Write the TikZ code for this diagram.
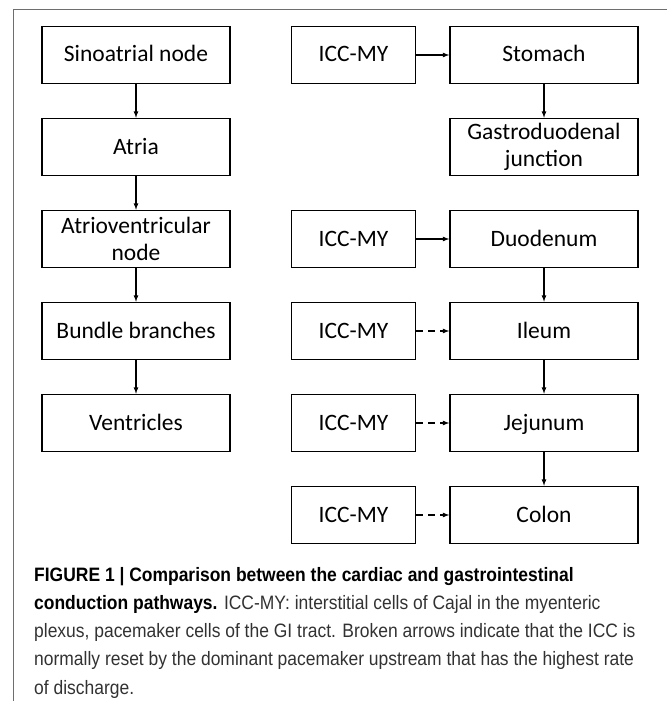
\documentclass[tikz,border=0pt]{standalone}
\usepackage{fontspec}
\setmainfont{Liberation Sans}
\newfontfamily\boxfont{Carlito}
\usetikzlibrary{positioning}
\definecolor{framegray}{RGB}{110,110,110}
\definecolor{captext}{RGB}{50,50,50}
\tikzset{
  blk/.style={draw, line width=1.5pt, minimum width=188pt, minimum height=57pt,
    inner sep=1pt, align=center, text height=17pt, text depth=3pt,
    font=\boxfont\fontsize{23.5}{27}\selectfont},
  twoline/.style={text height={}, text depth={}},
  iccbox/.style={blk, minimum width=124pt},
  link/.style={line width=1.2pt, -latex},
  weak/.style={link, dash pattern=on 7pt off 5pt}
}
\begin{document}
\begin{tikzpicture}[node distance=33.5pt]
\useasboundingbox (0,0) rectangle (667pt,-701pt);
\draw[framegray, line width=0.9pt] (13pt,-701pt) -- (13pt,-9pt) -- (667pt,-9pt); % page frame
% cardiac pathway
\node[blk] (san) at (136pt,-55pt) {Sinoatrial node};
\node[blk, below=of san] (atr) {Atria};
\node[blk, twoline, below=of atr] (avn) {Atrioventricular\\node};
\node[blk, below=of avn] (bun) {Bundle branches};
\node[blk, below=of bun] (ven) {Ventricles};
\foreach \a/\b in {san/atr, atr/avn, avn/bun, bun/ven}
\draw[link] (\a) -- (\b);
% gastrointestinal pathway
\node[blk] (sto) at (544pt,-55pt) {Stomach};
\node[blk, twoline, below=of sto] (gdj) {Gastroduodenal\\junction};
\node[blk, below=of gdj] (duo) {Duodenum};
\node[blk, below=of duo] (ile) {Ileum};
\node[blk, below=of ile] (jej) {Jejunum};
\node[blk, below=of jej] (col) {Colon};
\foreach \a/\b in {sto/gdj, duo/ile, ile/jej, jej/col}
\draw[link] (\a) -- (\b);
\foreach \n in {sto, duo, ile, jej, col} % one ICC-MY box per segment
\node[iccbox, left=33pt of \n] (icc-\n) {ICC-MY};
\foreach \n in {sto, duo} % edit here for solid arrows
\draw[link] (icc-\n) -- (\n);
\foreach \n in {ile, jej, col} % edit here for broken arrows
\draw[weak] (icc-\n) -- (\n);
% caption
\node[anchor=north west, inner sep=0pt, align=left, text=captext,
  font=\addfontfeature{FakeStretch=0.9}\fontsize{19.4}{28.2}\selectfont] (cap) at (34pt,-567pt)
{\textcolor{black}{\textbf{FIGURE 1 | Comparison between the cardiac and gastrointestinal}}\\
\textcolor{black}{\textbf{conduction pathways.}} ICC-MY: interstitial cells of Cajal in the myenteric\\
plexus, pacemaker cells of the GI tract. Broken arrows indicate that the ICC is\\
normally reset by the dominant pacemaker upstream that has the highest rate\\
of discharge.};
\end{tikzpicture}
\end{document}
